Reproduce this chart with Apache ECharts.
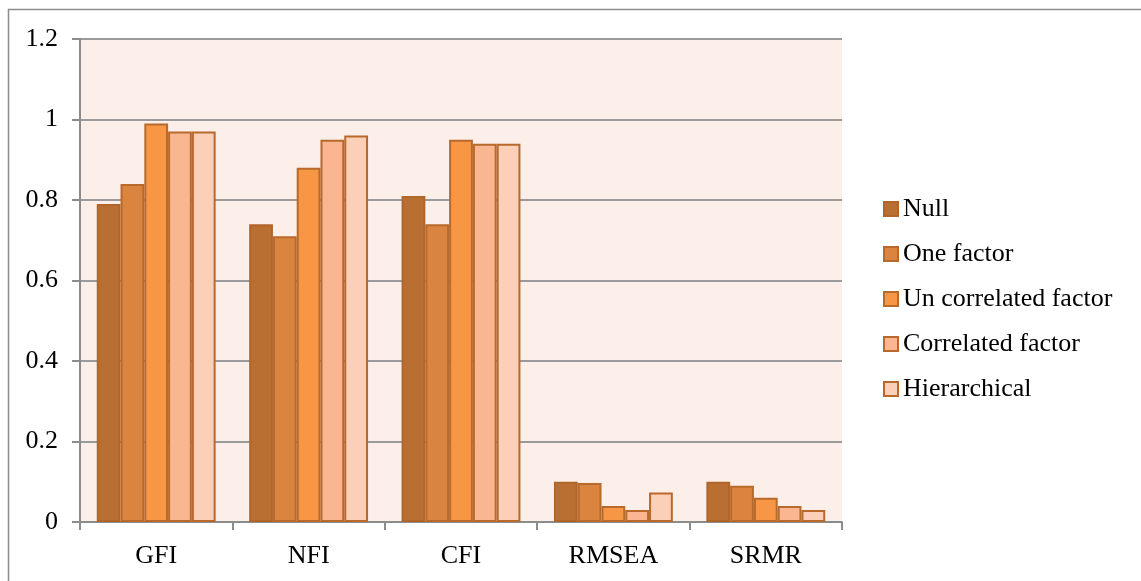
<!DOCTYPE html>
<html>
<head>
<meta charset="utf-8">
<script src="https://cdn.jsdelivr.net/npm/echarts@6/dist/echarts.min.js"></script>
<style>
  html, body { margin: 0; padding: 0; background: #ffffff; }
  #chart { width: 1141px; height: 581px; }
</style>
</head>
<body>
<div id="chart"></div>
<script>
// Fit indices for each model
const categories = ['GFI', 'NFI', 'CFI', 'RMSEA', 'SRMR'];
const seriesNames = ['Null', 'One factor', 'Un correlated factor', 'Correlated factor', 'Hierarchical'];
const nullModel = [0.79, 0.74, 0.81, 0.10, 0.10];
const oneFactor = [0.84, 0.71, 0.74, 0.097, 0.09];
const uncorrelated = [0.99, 0.88, 0.95, 0.04, 0.06];
const correlated = [0.97, 0.95, 0.94, 0.03, 0.04];
const hierarchical = [0.97, 0.96, 0.94, 0.073, 0.03];
const yTicks = [0, 0.2, 0.4, 0.6, 0.8, 1, 1.2];

const seriesValues = [nullModel, oneFactor, uncorrelated, correlated, hierarchical];
const fills = ['#B86F31', '#DB843F', '#F79746', '#F9B690', '#FCCFB9'];
const edges = ['#B0662A', '#B8692C', '#B8692C', '#B8692C', '#B8692C'];
const font = '"Liberation Serif", "Times New Roman", serif';

const chart = echarts.init(document.getElementById('chart'), null, { renderer: 'canvas' });

chart.setOption({
  animation: false,
  backgroundColor: '#ffffff',
  graphic: [{
    // outer frame; right and bottom edges run past the canvas
    type: 'rect',
    shape: { x: 8.5, y: 9.5, width: 1200, height: 700 },
    style: { fill: 'none', stroke: '#8c8c8c', lineWidth: 1.5 },
    silent: true,
    z: 0
  }],
  grid: {
    left: 80, right: 299, top: 39, bottom: 59,
    show: true,
    backgroundColor: '#FCEEE9',
    borderWidth: 0
  },
  legend: {
    orient: 'vertical',
    left: 878,
    top: 191,
    itemWidth: 14,
    itemHeight: 14,
    itemGap: 19,
    icon: 'rect',
    textStyle: { fontFamily: font, fontSize: 26, lineHeight: 26, color: '#000', padding: [0, 0, 0, 0] },
    data: seriesNames
  },
  xAxis: {
    type: 'category',
    data: categories,
    axisLine: { lineStyle: { color: '#8c8c8c', width: 2 } },
    axisTick: { show: true, length: 8, lineStyle: { color: '#8c8c8c', width: 2 } },
    axisLabel: { fontFamily: font, fontSize: 26, color: '#000', margin: 21 },
    splitLine: { show: false }
  },
  yAxis: {
    type: 'value',
    min: yTicks[0],
    max: yTicks[yTicks.length - 1],
    interval: 0.2,
    axisLine: { show: true, lineStyle: { color: '#8c8c8c', width: 2 } },
    axisTick: { show: true, length: 8, lineStyle: { color: '#8c8c8c', width: 2 } },
    axisLabel: {
      fontFamily: font, fontSize: 26, color: '#000', margin: 22,
      formatter: v => String(Math.round(v * 10) / 10)
    },
    splitLine: { lineStyle: { color: '#9a9a9a', width: 2 } }
  },
  series: seriesNames.map((name, i) => ({
    name: name,
    type: 'bar',
    data: seriesValues[i],
    barGap: '0%',
    barCategoryGap: '22%',
    itemStyle: { color: fills[i], borderColor: edges[i], borderWidth: 2 }
  }))
});
</script>
</body>
</html>
